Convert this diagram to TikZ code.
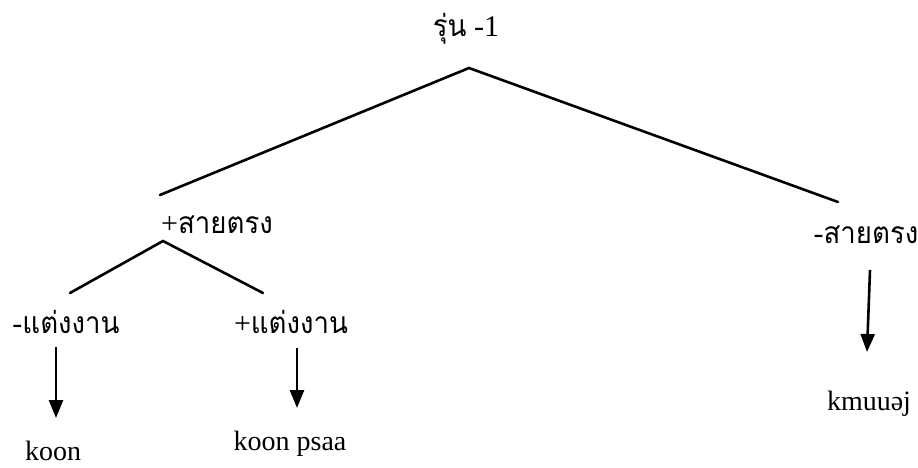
\documentclass[tikz,border=0pt]{standalone}
\usepackage{fontspec}
\setmainfont{Liberation Serif}
\newfontfamily\thaifont[Script=Thai,FakeStretch=0.92]{Loma}
\usetikzlibrary{arrows.meta}
\begin{document}
\begin{tikzpicture}[x=1pt,y=-1pt,
  lbl/.style={anchor=base,inner sep=0pt,font=\fontsize{28}{31}\selectfont},
  thl/.style={anchor=base,inner sep=0pt,font=\fontsize{30}{34}\selectfont},
  branch/.style={line width=2.6pt,line cap=round},
  arr/.style={line width=2.6pt,-{Triangle[length=18pt,width=14pt]}}]
\useasboundingbox (0,0) rectangle (918,468);
% labels
\node[thl] (top) at (466,37) {{\thaifont รุ่น} -1};
\node[thl] (ls) at (217,233) {+{\thaifont สายตรง}};
\node[thl] (rs) at (866,243) {-{\thaifont สายตรง}};
\node[thl] (lm) at (66,333) {-{\thaifont แต่งงาน}};
\node[thl] (rm) at (291,333) {+{\thaifont แต่งงาน}};
\node[lbl] (koon) at (53,460) {koon};
\node[lbl] (koonpsaa) at (290,450) {koon psaa};
\node[lbl] (kmuuej) at (869,410) {kmuuəj};
% junction points
\coordinate (apex) at (469,68);
\coordinate (a1) at (160,195);
\coordinate (a2) at (838,202);
\coordinate (apex2) at (163,241);
\coordinate (b1) at (70,293);
\coordinate (b2) at (263,293);
\coordinate (c1s) at (56,347);
\coordinate (c1e) at (56,418);
\coordinate (c2s) at (297,348);
\coordinate (c2e) at (297,408);
\coordinate (c3s) at (870,270);
\coordinate (c3e) at (867,352);
% branches
\draw[branch] (a1) -- (apex) -- (a2);
\draw[branch] (b1) -- (apex2) -- (b2);
% arrows
\draw[arr] (c1s) -- (c1e);
\draw[arr] (c2s) -- (c2e);
\draw[arr] (c3s) -- (c3e);
\end{tikzpicture}
\end{document}
